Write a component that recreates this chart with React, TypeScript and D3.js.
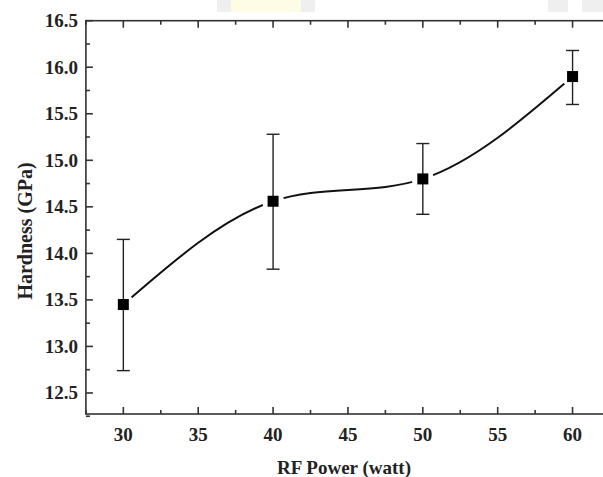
import React, { useEffect, useRef } from 'react';
import * as d3 from 'd3';

// RF power (watt) vs hardness (GPa)
const rfPower = [30, 40, 50, 60];
const hardness = [13.45, 14.56, 14.80, 15.90];
const errLow = [12.74, 13.83, 14.42, 15.60];
const errHigh = [14.15, 15.28, 15.18, 16.18];

const xMajorTicks = [30, 35, 40, 45, 50, 55, 60];
const xMinorTicks = [27.5, 32.5, 37.5, 42.5, 47.5, 52.5, 57.5, 62.5];
const yMajorTicks = [12.5, 13.0, 13.5, 14.0, 14.5, 15.0, 15.5, 16.0, 16.5];
const yMinorTicks = [12.25, 12.75, 13.25, 13.75, 14.25, 14.75, 15.25, 15.75, 16.25];

function App() {
    const svgRef = useRef<SVGSVGElement>(null);

    useEffect(() => {
        const svg = d3.select(svgRef.current);
        svg.selectAll('*').remove();

        const width = 603;
        const height = 477;
        const margin = { top: 20.7, right: -7, bottom: 63, left: 85.9 };
        const font = '"Liberation Serif", "Times New Roman", serif';

        const x = d3.scaleLinear().domain([27.5, 62.5]).range([margin.left, width - margin.right]);
        const y = d3.scaleLinear().domain([12.274, 16.5]).range([height - margin.bottom, margin.top]);

        // faint watermark blocks along the top edge
        const blocks = [
            [217, 231, '#efefef'], [231, 301, '#fffce6'], [301, 315, '#efefef'],
            [548, 568, '#efefef'], [582, 603, '#efefef'],
        ];
        blocks.forEach(([a, b, c]) => {
            svg.append('rect').attr('x', a as number).attr('y', 0)
                .attr('width', (b as number) - (a as number)).attr('height', 12).attr('fill', c as string);
        });

        const x0 = x.range()[0], x1 = x.range()[1];
        const y0 = y.range()[0], y1 = y.range()[1];

        // frame
        svg.append('rect')
            .attr('x', x0).attr('y', y1)
            .attr('width', x1 - x0).attr('height', y0 - y1)
            .attr('fill', 'none').attr('stroke', '#333').attr('stroke-width', 1.6);

        const ticks = svg.append('g').attr('stroke', '#333').attr('stroke-width', 1.6);
        const xt = (vals: number[], len: number) => vals.forEach(v => {
            ticks.append('line').attr('x1', x(v)).attr('x2', x(v)).attr('y1', y0).attr('y2', y0 - len);
            ticks.append('line').attr('x1', x(v)).attr('x2', x(v)).attr('y1', y1).attr('y2', y1 + len);
        });
        const yt = (vals: number[], len: number) => vals.forEach(v => {
            ticks.append('line').attr('y1', y(v)).attr('y2', y(v)).attr('x1', x0).attr('x2', x0 + len);
            ticks.append('line').attr('y1', y(v)).attr('y2', y(v)).attr('x1', x1).attr('x2', x1 - len);
        });
        xt(xMajorTicks, 7);
        xt(xMinorTicks, 4);
        yt(yMajorTicks, 7);
        yt(yMinorTicks, 4);

        // tick labels
        svg.append('g').selectAll('text').data(xMajorTicks).enter().append('text')
            .attr('x', d => x(d)).attr('y', 441)
            .attr('text-anchor', 'middle')
            .style('font-family', font).style('font-weight', 'bold').style('font-size', '19px')
            .style('fill', '#222')
            .text(d => d3.format('d')(d));

        svg.append('g').selectAll('text').data(yMajorTicks).enter().append('text')
            .attr('x', 78).attr('y', d => y(d))
            .attr('dy', '0.34em')
            .attr('text-anchor', 'end')
            .style('font-family', font).style('font-weight', 'bold').style('font-size', '19px')
            .style('fill', '#222')
            .text(d => d3.format('.1f')(d));

        // axis titles
        svg.append('text')
            .attr('x', 344).attr('y', 474)
            .attr('text-anchor', 'middle')
            .style('font-family', font).style('font-weight', 'bold').style('font-size', '19px')
            .style('fill', '#222')
            .text('RF Power (watt)');

        svg.append('text')
            .attr('transform', 'translate(32,231) rotate(-90)')
            .attr('text-anchor', 'middle')
            .style('font-family', font).style('font-weight', 'bold').style('font-size', '20px')
            .style('fill', '#222')
            .text('Hardness (GPa)');

        // smooth line through the points
        const line = d3.line<number>()
            .x((_, i) => x(rfPower[i]))
            .y(d => y(d))
            .curve(d3.curveNatural);

        svg.append('path')
            .datum(hardness)
            .attr('fill', 'none')
            .attr('stroke', '#111')
            .attr('stroke-width', 2)
            .attr('d', line);

        // gap around each marker
        svg.append('g').selectAll('circle').data(hardness).enter().append('circle')
            .attr('cx', (_, i) => x(rfPower[i])).attr('cy', d => y(d))
            .attr('r', 11).attr('fill', '#fff');

        // error bars
        const eb = svg.append('g').attr('stroke', '#222').attr('stroke-width', 1.4);
        rfPower.forEach((p, i) => {
            const cx = x(p);
            eb.append('line').attr('x1', cx).attr('x2', cx).attr('y1', y(errLow[i])).attr('y2', y(errHigh[i]));
            eb.append('line').attr('x1', cx - 6.5).attr('x2', cx + 6.5).attr('y1', y(errLow[i])).attr('y2', y(errLow[i]));
            eb.append('line').attr('x1', cx - 6.5).attr('x2', cx + 6.5).attr('y1', y(errHigh[i])).attr('y2', y(errHigh[i]));
        });

        // square markers
        svg.append('g').selectAll('rect').data(hardness).enter().append('rect')
            .attr('x', (_, i) => x(rfPower[i]) - 5.5).attr('y', d => y(d) - 5.5)
            .attr('width', 11).attr('height', 11)
            .attr('fill', '#000');
    }, []);

    return (
        <div style={{ position: 'fixed', left: 0, top: 0 }}>
            <svg ref={svgRef} width={603} height={477} style={{ display: 'block', background: '#fff' }}></svg>
        </div>
    );
}

export default App;
